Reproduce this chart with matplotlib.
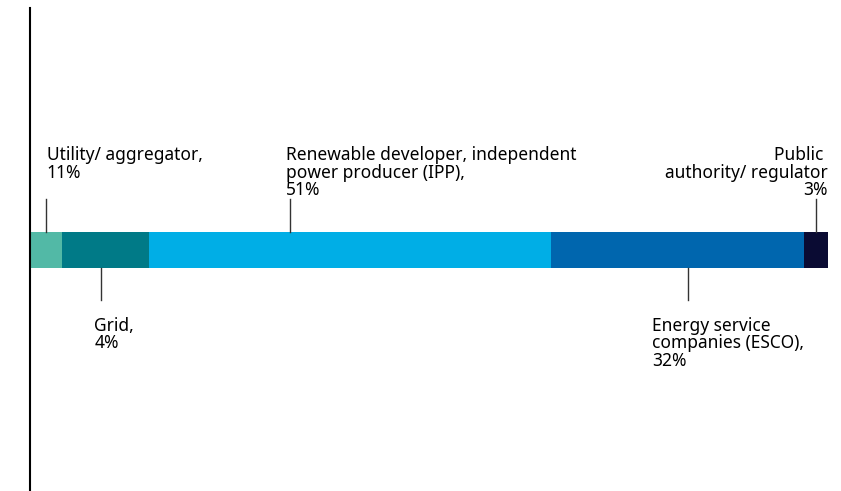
import matplotlib.pyplot as plt

labels = ["Utility/ aggregator,\n11%", "Grid,\n4%",
          "Renewable developer, independent\npower producer (IPP),\n51%",
          "Energy service\ncompanies (ESCO),\n32%",
          "Public \nauthority/ regulator\n3%"]
values = [4, 11, 51, 32, 3]
colors = ["#52b9a6", "#007a87", "#00aee6", "#0066ae", "#0a0b33"]
above = [True, False, True, False, True]
anchor = [0.5, 0.45, 0.35, 0.54, 0.5]      # where the leader sits in each segment
text_dx = [0.1, -0.8, -0.5, -4.5, 0]       # text shift from the leader

fig = plt.figure(figsize=(8.41, 4.91), dpi=100)
ax = fig.add_axes([30 / 841, 0, 798 / 841, 483 / 491])
ax.set_xlim(0, sum(values))
ax.set_ylim(-1, 1)

h = 36 / 483 * 2
fs = 12.5
left = 0
for i, v in enumerate(values):
    ax.barh(0, v, left=left, height=h, color=colors[i], linewidth=0)
    x = left + anchor[i] * v
    if above[i]:
        ax.plot([x, x], [h / 2, h / 2 + 0.133], color="#333333", lw=1)
        if i == len(values) - 1:
            ax.text(sum(values), 0.427, labels[i], ha="right", va="top",
                    fontsize=fs, family="Noto Sans", linespacing=0.95)
        else:
            ax.text(x + text_dx[i], 0.427, labels[i], ha="left", va="top",
                    fontsize=fs, family="Noto Sans", linespacing=0.95)
    else:
        ax.plot([x, x], [-h / 2, -h / 2 - 0.133], color="#333333", lw=1)
        ax.text(x + text_dx[i], -0.28, labels[i], ha="left", va="top",
                fontsize=fs, family="Noto Sans", linespacing=0.95)
    left += v

for s in ["top", "right", "bottom"]:
    ax.spines[s].set_visible(False)
ax.spines["left"].set_linewidth(1.5)
ax.set_xticks([])
ax.set_yticks([])

plt.savefig("out.png", dpi=100)
